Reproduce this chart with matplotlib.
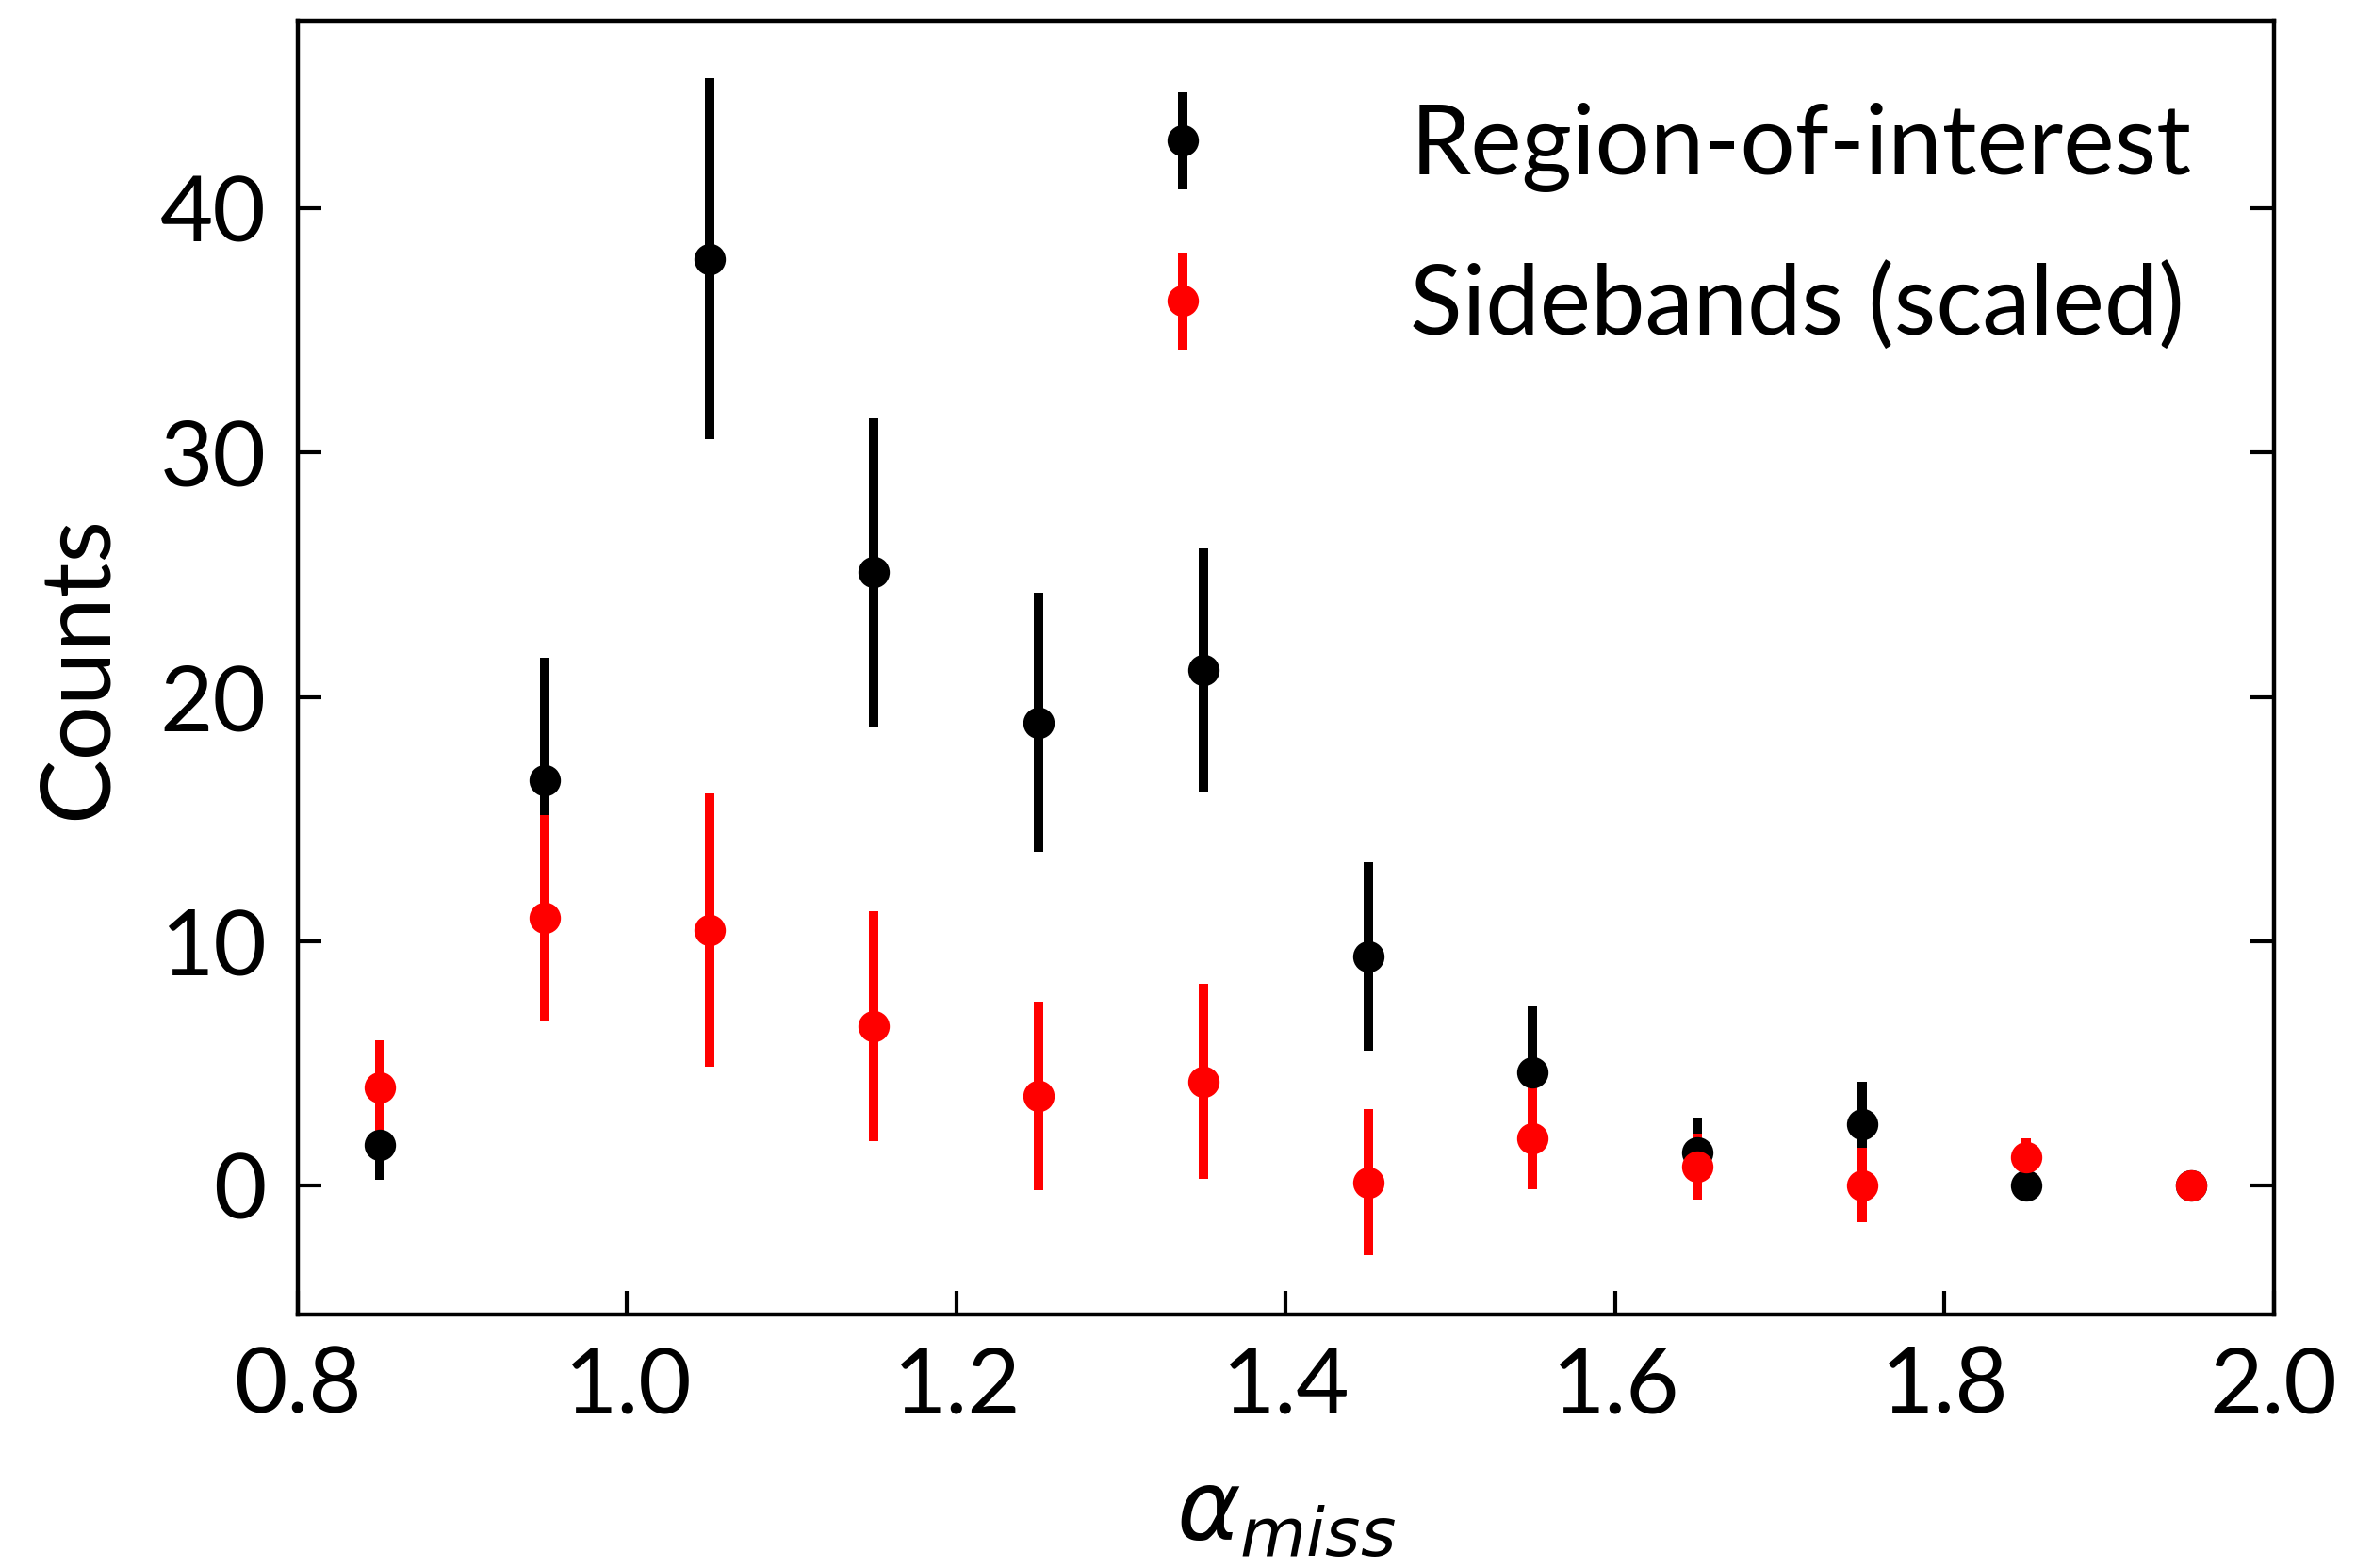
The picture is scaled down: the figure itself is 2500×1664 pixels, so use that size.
import numpy as np
import matplotlib
matplotlib.use('Agg')
import matplotlib.pyplot as plt

plt.rcParams['font.family'] = ['Lato', 'DejaVu Sans']
plt.rcParams['mathtext.fontset'] = 'dejavusans'

# bin centres of alpha_miss
alpha = [0.85, 0.95, 1.05, 1.15, 1.25, 1.35, 1.45, 1.55, 1.65, 1.75, 1.85, 1.95]

# region-of-interest counts and errors
roi = [1.66, 16.6, 37.95, 25.1, 18.95, 21.1, 9.38, 4.63, 1.35, 2.51, 0.0, 0.0]
roi_err = [1.43, 5.0, 7.4, 6.3, 5.3, 5.0, 3.86, 2.7, 1.43, 1.74, 0.0, 0.0]

# sideband counts (scaled) and errors
side = [4.01, 10.95, 10.46, 6.5, 3.65, 4.25, 0.12, 1.93, 0.77, 0.0, 1.16, 0.0]
side_err = [1.93, 4.2, 5.6, 4.7, 3.85, 4.0, 3.0, 2.08, 1.35, 1.53, 0.77, 0.0]

fig = plt.figure(figsize=(12.5, 8.32), dpi=200)
ax = fig.add_axes([0.1264, 0.1617, 0.8386, 0.8251])

ax.errorbar(alpha, roi, yerr=roi_err, fmt='o', color='black', ms=11,
            elinewidth=3.6, capsize=0, label='Region-of-interest')
ax.errorbar(alpha, side, yerr=side_err, fmt='o', color='red', ms=11,
            elinewidth=3.6, capsize=0, label='Sidebands (scaled)')

ax.set_xlim(0.8, 2.0)
ax.set_ylim(-5.3, 47.7)
ax.set_xticks([0.8, 1.0, 1.2, 1.4, 1.6, 1.8, 2.0])
ax.set_yticks([0, 10, 20, 30, 40])

ax.tick_params(direction='in', length=9, width=1.5, labelsize=35,
               right=True, top=False, pad=12)
for s in ax.spines.values():
    s.set_linewidth(1.6)

ax.set_xlabel(r'$\alpha_{miss}$', fontsize=37, labelpad=16)
ax.set_ylabel('Counts', fontsize=37, labelpad=14)

ax.legend(loc='upper right', frameon=False, fontsize=37, handletextpad=1.85,
          handlelength=1.0, labelspacing=0.72, borderaxespad=0.45)

fig.savefig('out.png', dpi=200)
